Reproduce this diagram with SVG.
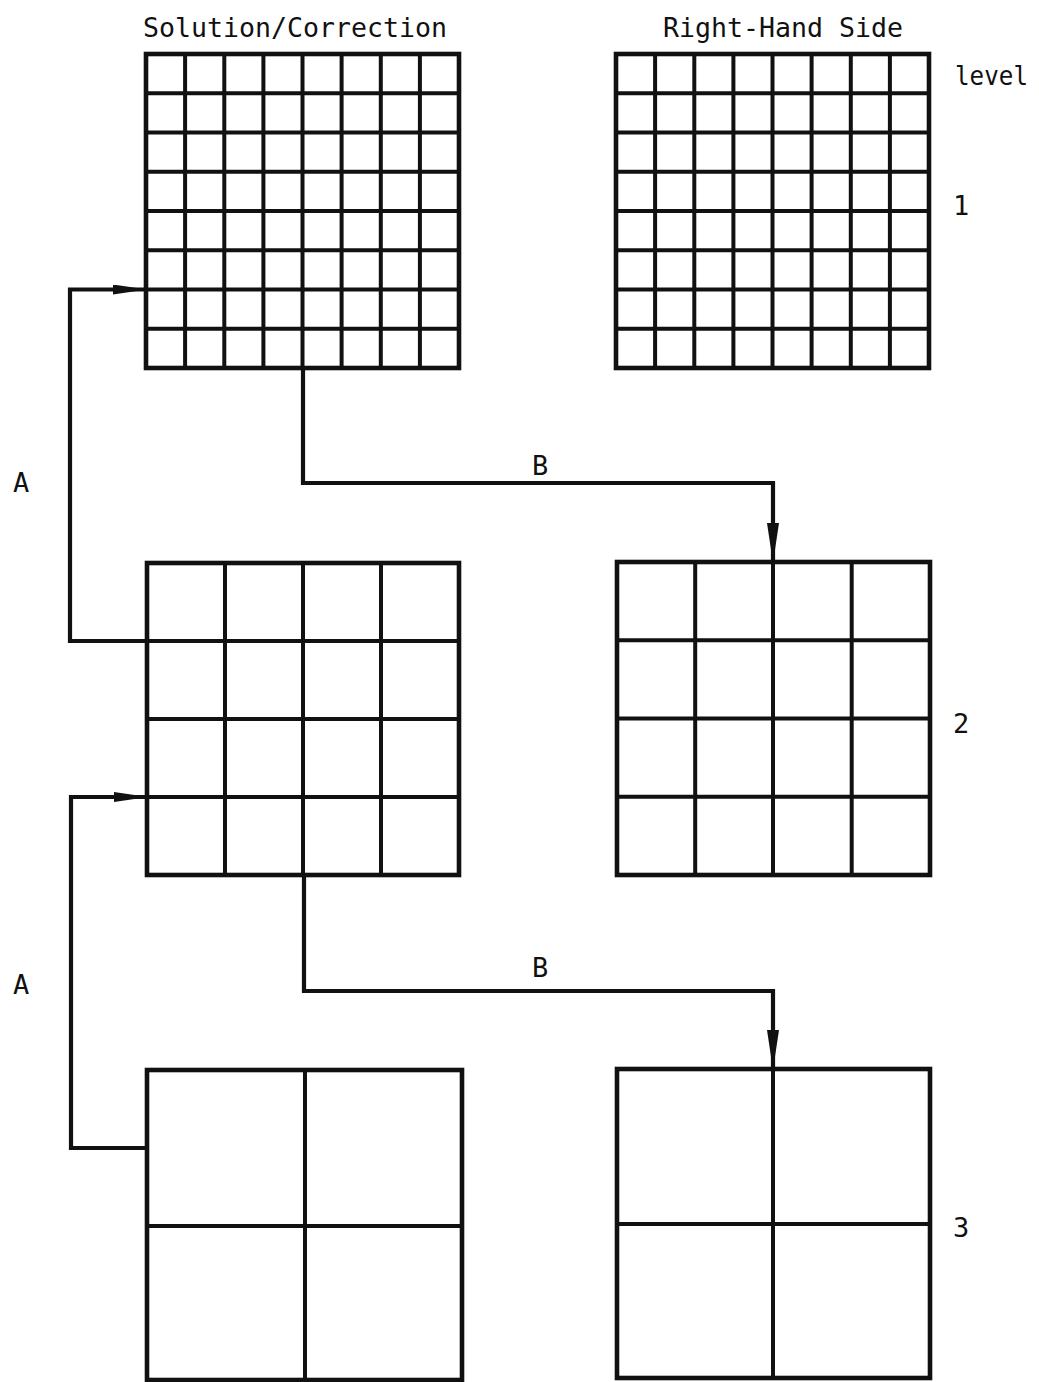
<svg xmlns="http://www.w3.org/2000/svg" width="1039" height="1382" viewBox="0 0 1039 1382">
<style>
  .bg { fill: #ffffff; }
  .frame { fill: none; stroke: #111; stroke-width: 4.6; }
  .grid { fill: none; stroke: #111; stroke-width: 4; }
  .conn { fill: none; stroke: #111; stroke-width: 4.2; stroke-linejoin: miter; }
  .lbl { font-family: "DejaVu Sans Mono", "Liberation Mono", monospace; font-size: 27px; fill: #111; }
</style>
<defs>
  <marker id="arrA" markerUnits="userSpaceOnUse" viewBox="0 0 34 10" markerWidth="34" markerHeight="10" refX="33" refY="5" orient="auto">
    <path d="M0,0 L34,5 L0,10 z" fill="#111"/>
  </marker>
  <marker id="arrB" markerUnits="userSpaceOnUse" viewBox="0 0 40 12" markerWidth="40" markerHeight="12" refX="39" refY="6" orient="auto">
    <path d="M0,0 L40,6 L0,12 z" fill="#111"/>
  </marker>
</defs>
<rect class="bg" x="0" y="0" width="1039" height="1382"/>

<g id="titles">
  <text class="lbl" x="143" y="37" textLength="304" lengthAdjust="spacingAndGlyphs">Solution/Correction</text>
  <text class="lbl" x="663" y="37" textLength="240" lengthAdjust="spacingAndGlyphs">Right-Hand Side</text>
  <text class="lbl" x="955" y="85" textLength="73" lengthAdjust="spacingAndGlyphs">level</text>
  <text class="lbl" x="953" y="215">1</text>
  <text class="lbl" x="953" y="733">2</text>
  <text class="lbl" x="953" y="1237">3</text>
</g>

<g id="sol1">
  <rect class="frame" x="146" y="54" width="313" height="314"/>
  <path class="grid" d="M185.1,54V368 M224.3,54V368 M263.4,54V368 M302.5,54V368 M341.6,54V368 M380.8,54V368 M419.9,54V368
    M146,93.2H459 M146,132.5H459 M146,171.8H459 M146,211H459 M146,250.2H459 M146,289.5H459 M146,328.8H459"/>
</g>

<g id="rhs1">
  <rect class="frame" x="616" y="54" width="313" height="314"/>
  <path class="grid" d="M655.1,54V368 M694.3,54V368 M733.4,54V368 M772.5,54V368 M811.6,54V368 M850.8,54V368 M889.9,54V368
    M616,93.2H929 M616,132.5H929 M616,171.8H929 M616,211H929 M616,250.2H929 M616,289.5H929 M616,328.8H929"/>
</g>

<g id="sol2">
  <rect class="frame" x="147" y="563" width="312" height="312"/>
  <path class="grid" d="M225,563V875 M303,563V875 M381,563V875 M147,641H459 M147,719H459 M147,797H459"/>
</g>

<g id="rhs2">
  <rect class="frame" x="617" y="562" width="313" height="313"/>
  <path class="grid" d="M695.2,562V875 M773,562V875 M851.7,562V875 M617,640.2H930 M617,718.5H930 M617,796.8H930"/>
</g>

<g id="sol3">
  <rect class="frame" x="147" y="1070" width="315" height="310"/>
  <path class="grid" d="M305,1070V1380 M147,1226H462"/>
</g>

<g id="rhs3">
  <rect class="frame" x="617" y="1069" width="313" height="309"/>
  <path class="grid" d="M773,1069V1378 M617,1224H930"/>
</g>

<g id="connectors">
  <path class="conn" d="M147,641 H70 V289.5 H146" marker-end="url(#arrA)"/>
  <path class="conn" d="M147,1148 H71 V797 H147" marker-end="url(#arrA)"/>
  <path class="conn" d="M303,368 V483 H773 V562" marker-end="url(#arrB)"/>
  <path class="conn" d="M304,875 V991 H773 V1069" marker-end="url(#arrB)"/>
  <text class="lbl" x="13" y="492">A</text>
  <text class="lbl" x="13" y="994">A</text>
  <text class="lbl" x="532" y="475">B</text>
  <text class="lbl" x="532" y="977">B</text>
</g>
</svg>
